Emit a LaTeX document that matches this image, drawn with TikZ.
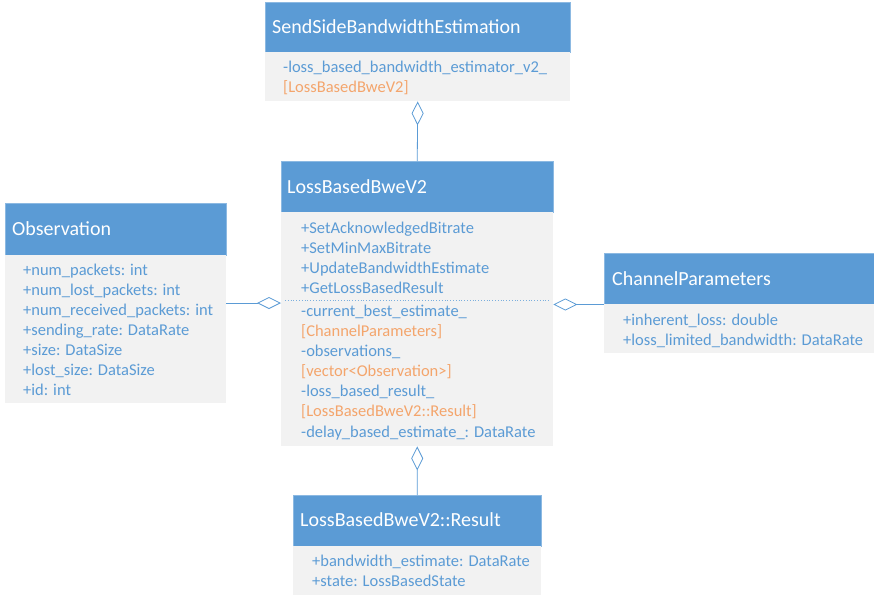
\documentclass[tikz,border=0pt]{standalone}
\usepackage{fontspec}
\setmainfont{Carlito}
\usetikzlibrary{arrows.meta,calc}
\definecolor{hdrblue}{HTML}{5B9BD5}
\definecolor{bodygray}{HTML}{F2F2F2}
\definecolor{txtblue}{HTML}{5B9BD5}
\definecolor{txtorange}{HTML}{F4A56C}
\begin{document}
\begin{tikzpicture}[x=1pt,y=-1pt,
  hdr/.style={fill=hdrblue,draw=hdrblue!70!white,line width=0.5pt,anchor=north west,inner sep=0,minimum width=#1},
  bodybox/.style={fill=bodygray,draw=none,anchor=north west,inner sep=0,minimum width=#1},
  ttl/.style={text=white,font=\fontsize{20}{22}\selectfont,anchor=west,inner sep=0,text height=14,text depth=1},
  attr/.style={text=txtblue,font=\fontsize{16.5}{18}\selectfont,anchor=west,inner sep=0,text height=12,text depth=1},
  typ/.style={attr,text=txtorange},
  agg/.style={draw=hdrblue,line width=0.8pt,-{Diamond[length=24pt,width=12pt,fill=white]}}
]
\useasboundingbox (0,0) rectangle (874,599);
% SendSideBandwidthEstimation
\node[hdr=305,minimum height=50] (ssH) at (265,2) {};
\node[bodybox=305,minimum height=49] (ssB) at (265,52) {};
\node[ttl] (ssT) at (272,27) {SendSideBandwidthEstimation};
\node[attr] (ss1) at (283,67) {-loss\_based\_bandwidth\_estimator\_v2\_};
\node[typ] (ss2) at (283,87) {[LossBasedBweV2]};
% LossBasedBweV2
\node[hdr=272,minimum height=51] (lbH) at (281,161) {};
\node[bodybox=272,minimum height=234] (lbB) at (281,212) {};
\node[ttl] (lbT) at (287,187) {LossBasedBweV2};
\node[attr] (lb1) at (301,228) {+SetAcknowledgedBitrate};
\node[attr] (lb2) at (301,248) {+SetMinMaxBitrate};
\node[attr] (lb3) at (301,268) {+UpdateBandwidthEstimate};
\node[attr] (lb4) at (301,288) {+GetLossBasedResult};
\draw[hdrblue!80!white,dotted,line width=0.8pt] ($(lbB.north west)+(4,88)$) -- ($(lbB.north east)+(-4,88)$);
\node[attr] (lb5) at (301,311) {-current\_best\_estimate\_};
\node[typ] (lb6) at (301,331) {[ChannelParameters]};
\node[attr] (lb7) at (301,351) {-observations\_};
\node[typ] (lb8) at (301,371) {[vector<Observation>]};
\node[attr] (lb9) at (301,391) {-loss\_based\_result\_};
\node[typ] (lb10) at (301,411) {[LossBasedBweV2::Result]};
\node[attr] (lb11) at (301,432) {-delay\_based\_estimate\_: DataRate};
% Observation
\node[hdr=221,minimum height=52] (obH) at (5,203) {};
\node[bodybox=221,minimum height=148] (obB) at (5,255) {};
\node[ttl] (obT) at (12,229) {Observation};
\node[attr] (ob1) at (23,270) {+num\_packets: int};
\node[attr] (ob2) at (23,290) {+num\_lost\_packets: int};
\node[attr] (ob3) at (23,310) {+num\_received\_packets: int};
\node[attr] (ob4) at (23,330) {+sending\_rate: DataRate};
\node[attr] (ob5) at (23,350) {+size: DataSize};
\node[attr] (ob6) at (23,370) {+lost\_size: DataSize};
\node[attr] (ob7) at (23,390) {+id: int};
% ChannelParameters
\node[hdr=270,minimum height=51] (chH) at (604,253) {};
\node[bodybox=270,minimum height=49] (chB) at (604,304) {};
\node[ttl] (chT) at (612,279) {ChannelParameters};
\node[attr] (ch1) at (623,320) {+inherent\_loss: double};
\node[attr] (ch2) at (623,340) {+loss\_limited\_bandwidth: DataRate};
% LossBasedBweV2::Result
\node[hdr=248,minimum height=51] (rsH) at (293,495) {};
\node[bodybox=248,minimum height=49] (rsB) at (293,546) {};
\node[ttl] (rsT) at (300,520) {LossBasedBweV2::Result};
\node[attr] (rs1) at (312,561) {+bandwidth\_estimate: DataRate};
\node[attr] (rs2) at (312,581) {+state: LossBasedState};
% connectors
\draw[agg] (lbH.north) -- (ssB.south);
\draw[agg] (rsH.north) -- (lbB.south);
\draw[agg] (obB.east |- 0,303) -- (lbB.west |- 0,303);
\draw[agg] (chH.south west) -- (lbB.east |- chH.south west);
\end{tikzpicture}
\end{document}
